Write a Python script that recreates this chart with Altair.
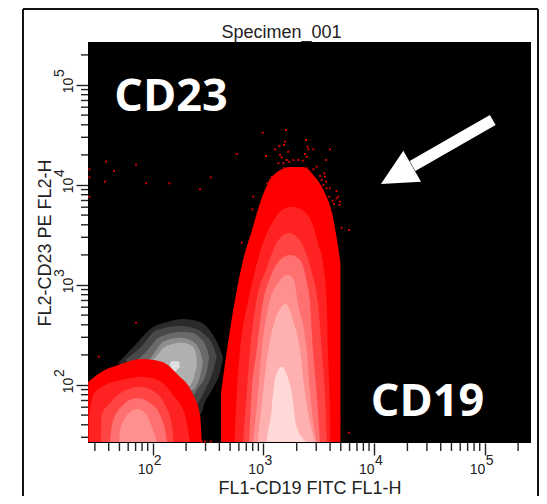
import altair as alt
import pandas as pd

# All contour values are log10 of the fluorescence channel.
X_DOMAIN = [26.0, 261600]
Y_DOMAIN = [26.3, 269150]
FLOOR = 1.43

# Right (CD19+) population: contour x positions and upper edges
R_LEVELS = [
 ("#FF0000", [2.617,2.680,2.743,2.816,2.897,2.969,3.042,3.150,3.240,3.358,3.466,3.556,3.620,3.665,3.696],
             [1.92,2.42,2.85,3.25,3.55,3.82,4.02,4.15,4.18,4.18,4.08,3.92,3.72,3.45,3.22]),
 ("#FF2222", [2.739,2.759,2.789,2.858,2.897,2.942,2.996,3.078,3.168,3.258,3.349,3.439,3.493,3.538,3.572,3.583,3.597,3.606],
             [1.43,1.92,2.35,2.82,3.02,3.22,3.42,3.62,3.75,3.783,3.75,3.62,3.42,3.22,2.82,2.35,1.92,1.43]),
 ("#FF4444", [2.816,2.849,2.879,2.933,2.969,3.014,3.078,3.150,3.231,3.312,3.385,3.439,3.493,3.527,3.556,3.572],
             [1.43,1.92,2.35,2.82,3.00,3.12,3.32,3.47,3.52,3.47,3.32,3.12,2.82,2.35,1.92,1.43]),
 ("#FF7070", [2.870,2.894,2.939,2.994,3.060,3.150,3.240,3.331,3.385,3.421,3.448,3.481,3.511],
             [1.43,1.92,2.35,2.82,3.07,3.25,3.30,3.25,3.07,2.82,2.35,1.92,1.43]),
 ("#FF9090", [2.906,2.951,2.985,3.051,3.132,3.222,3.276,3.312,3.391,3.421,3.481],
             [1.43,1.92,2.35,2.82,3.02,3.10,3.05,2.82,2.35,1.92,1.43]),
 ("#FFB0B0", [2.948,2.996,3.044,3.105,3.201,3.267,3.331,3.376,3.466],
             [1.43,1.92,2.35,2.65,2.81,2.65,2.35,1.92,1.43]),
 ("#FFD8D8", [3.030,3.039,3.069,3.087,3.114,3.165,3.213,3.256,3.301,3.391],
             [1.43,1.52,1.70,1.92,2.10,2.183,2.10,1.92,1.58,1.43]),
]

# Lower-left population
L_LEVELS = [
 ("#FF0000", [1.416,1.539,1.687,1.901,2.081,2.229,2.352,2.427,2.443],
             [2.03,2.133,2.20,2.26,2.233,2.10,1.933,1.70,1.43]),
 ("#FF2222", [1.425,1.461,1.569,1.720,1.901,2.048,2.183,2.292,2.337],
             [1.70,1.90,2.00,2.05,2.083,2.05,1.90,1.70,1.43]),
 ("#FF4444", [1.530,1.539,1.614,1.723,1.885,2.021,2.111,2.174,2.188],
             [1.43,1.70,1.82,1.93,1.983,1.93,1.80,1.60,1.43]),
 ("#FF7070", [1.614,1.632,1.705,1.858,1.976,2.066,2.111,2.129],
             [1.43,1.60,1.77,1.87,1.82,1.70,1.55,1.43]),
 ("#FF9090", [1.698,1.705,1.750,1.795,1.858,1.930,2.003,2.039],
             [1.43,1.55,1.67,1.73,1.76,1.72,1.55,1.43]),
]

# Grey population: x, upper edge, lower edge
G_LEVELS = [
 ("#2A2A2A", [1.687,1.840,1.991,2.129,2.276,2.427,2.472,2.545,2.608,2.635],
             [2.22,2.40,2.57,2.63,2.66,2.63,2.60,2.50,2.36,2.27],
             [2.22,2.10,2.07,2.00,1.90,1.70,1.83,1.97,2.13,2.27]),
 ("#484848", [1.750,1.885,2.036,2.247,2.397,2.472,2.533,2.578],
             [2.25,2.37,2.55,2.59,2.56,2.50,2.42,2.283],
             [2.25,2.15,2.10,2.00,1.82,1.95,2.10,2.283]),
 ("#6A6A6A", [1.840,1.930,2.066,2.262,2.364,2.409,2.488,2.509],
             [2.23,2.32,2.483,2.53,2.52,2.49,2.37,2.27],
             [2.23,2.13,2.07,2.00,1.90,1.97,2.133,2.27]),
 ("#8E8E8E", [1.930,1.991,2.093,2.247,2.355,2.427,2.454],
             [2.20,2.283,2.433,2.473,2.44,2.34,2.233],
             [2.20,2.13,2.07,2.00,1.95,2.083,2.233]),
 ("#B0B0B0", [1.976,2.021,2.111,2.262,2.319,2.364,2.397],
             [2.23,2.27,2.383,2.423,2.41,2.38,2.283],
             [2.23,2.15,2.07,2.00,1.983,2.05,2.183]),
 ("#E0E0E0", [2.156,2.183,2.238,2.242],
             [2.22,2.24,2.233,2.233],
             [2.21,2.11,2.17,2.17]),
]

# Scattered outlier events
DOT_X = [1.428,1.428,1.428,1.578,1.650,1.569,1.849,1.940,2.150,2.524,2.427,2.759,2.993,3.204,2.909,2.900,2.804,1.849,1.512,
         3.195,3.186,3.144,3.105,3.023,3.150,3.165,3.225,3.210,3.135,3.180,3.234,3.270,3.315,3.355,3.186,3.159,3.075,3.060,3.035,
         3.385,3.397,3.406,3.451,3.601,3.376,3.391,3.566,3.481,3.451,3.421,3.391,3.511,3.550,3.556,3.526,3.566,3.541,3.571,3.601,
         3.661,3.676,3.661,3.691,3.625,3.637,3.686,3.595,3.707,3.773,3.691,3.773,2.442,2.472,2.524]
DOT_Y = [4.157,4.077,3.883,4.233,4.140,4.033,4.203,4.017,4.017,4.077,3.957,4.310,4.523,4.550,3.883,3.757,3.423,2.623,2.283,
         4.433,4.400,4.390,4.357,4.290,4.300,4.277,4.333,4.250,4.217,4.217,4.233,4.250,4.250,4.243,4.167,4.143,4.083,4.050,4.017,
         4.450,4.383,4.357,4.357,4.357,4.310,4.283,4.250,4.183,4.157,4.133,4.167,4.090,4.117,4.083,4.050,4.033,4.000,3.967,3.967,
         3.940,3.883,3.867,3.833,3.843,3.810,3.800,3.883,3.573,3.550,1.657,1.523,1.433,1.433,1.433]

# Annotation arrow
ARROW_SHAFT_X = [4.347, 5.072]
ARROW_SHAFT_Y = [4.19, 4.65]
ARROW_HEAD_X = [4.062, 4.264, 4.424]
ARROW_HEAD_TOP = [4.01, 4.343, 4.033]
ARROW_HEAD_BOT = [4.01, 4.023, 4.033]

EXPONENTS = [2, 3, 4, 5]
MAJOR = [10.0 ** e for e in EXPONENTS]
MINOR_X = [30,40,50,60,70,80,90] + [m * 10 ** k for k in (2, 3, 4) for m in range(2, 10)] + [200000]
MINOR_Y = MINOR_X

FONT = "Liberation Sans"
TICK = "#222222"


def ten(v):
    return [10.0 ** a for a in v]


xs = alt.Scale(type="log", domain=X_DOMAIN, nice=False)
ys = alt.Scale(type="log", domain=Y_DOMAIN, nice=False)
x_axis = alt.Axis(
    values=MAJOR, title="FL1-CD19 FITC FL1-H", grid=False, domain=False,
    tickSize=12, tickWidth=1.4, tickColor=TICK, labelExpr="'10'",
    labelAlign="right", labelFont=FONT, labelFontSize=14, labelColor="#222222",
    labelPadding=7, labelOverlap=False, labelFlush=False,
    titleFont=FONT, titleFontSize=18, titleFontWeight="normal", titleColor="#222222",
    titleY=50, titleBaseline="alphabetic")
y_axis = alt.Axis(
    values=MAJOR, title="FL2-CD23 PE FL2-H", grid=False, domain=False,
    tickSize=12, tickWidth=1.4, tickColor=TICK, labelExpr="'10'",
    labelAngle=270, labelAlign="center", labelBaseline="bottom",
    labelFont=FONT, labelFontSize=14, labelColor="#222222",
    labelPadding=1, labelOverlap=False, labelFlush=False,
    titleFont=FONT, titleFontSize=18, titleFontWeight="normal", titleColor="#222222",
    titleX=-38, titleBaseline="alphabetic")
X = alt.X("x:Q", scale=xs, axis=x_axis)
Y = alt.Y("y:Q", scale=ys, axis=y_axis)
Y2 = alt.Y2("y2:Q")

layers = []
for color, xv, top, bot in G_LEVELS:
    df = pd.DataFrame({"x": ten(xv), "y": ten(top), "y2": ten(bot)})
    layers.append(alt.Chart(df).mark_area(color=color, interpolate="monotone").encode(x=X, y=Y, y2=Y2))

for color, xv, top in R_LEVELS + L_LEVELS:
    df = pd.DataFrame({"x": ten(xv), "y": ten(top), "y2": ten([FLOOR] * len(xv))})
    layers.append(alt.Chart(df).mark_area(color=color, interpolate="monotone").encode(x=X, y=Y, y2=Y2))

layers.append(alt.Chart(pd.DataFrame({"x": ten(DOT_X), "y": ten(DOT_Y)}))
              .mark_square(color="#D00000", size=4, opacity=1).encode(x=X, y=Y))

# minor ticks
layers.append(alt.Chart(pd.DataFrame({"x": MINOR_X})).mark_rule(color=TICK, strokeWidth=1.4)
              .encode(x=X, y=alt.value(401), y2=alt.value(409)))
layers.append(alt.Chart(pd.DataFrame({"y": MINOR_Y})).mark_rule(color=TICK, strokeWidth=1.4)
              .encode(y=Y, x=alt.value(-7), x2=alt.value(0)))

# exponents of the tick labels
exp_df = pd.DataFrame({"x": MAJOR, "y": MAJOR, "e": [str(e) for e in EXPONENTS]})
layers.append(alt.Chart(exp_df).mark_text(font=FONT, fontSize=14, color="#222222", align="left", baseline="middle", dx=1)
              .encode(x=X, y=alt.value(419), text="e:N"))
layers.append(alt.Chart(exp_df).mark_text(font=FONT, fontSize=14, color="#222222", align="center", baseline="middle", angle=270, dx=12)
              .encode(y=Y, x=alt.value(-28.5), text="e:N"))

# arrow
layers.append(alt.Chart(pd.DataFrame({"x": ten(ARROW_SHAFT_X), "y": ten(ARROW_SHAFT_Y)}))
              .mark_line(color="white", strokeWidth=11.5, strokeCap="butt").encode(x=X, y=Y))
layers.append(alt.Chart(pd.DataFrame({"x": ten(ARROW_HEAD_X), "y": ten(ARROW_HEAD_TOP), "y2": ten(ARROW_HEAD_BOT)}))
              .mark_area(color="white").encode(x=X, y=Y, y2=Y2))

# big labels
lab_df = pd.DataFrame({"x": ten([2.165, 4.482]), "y": ten([4.88, 1.83]), "t": ["CD23", "CD19"]})
layers.append(alt.Chart(lab_df).mark_text(font="Open Sans", fontWeight="bold", fontSize=45, color="white",
                                          align="center", baseline="middle")
              .encode(x=X, y=Y, text="t:N"))

# outer frame of the picture
one = pd.DataFrame({"a": [0]})
layers.append(alt.Chart(one).mark_rule(color="#111111", strokeWidth=2)
              .encode(x=alt.value(-65), y=alt.value(-33), y2=alt.value(454)))
layers.append(alt.Chart(one).mark_rule(color="#111111", strokeWidth=2)
              .encode(x=alt.value(450), y=alt.value(-33), y2=alt.value(454)))
layers.append(alt.Chart(one).mark_rule(color="#111111", strokeWidth=2)
              .encode(y=alt.value(-33), x=alt.value(-65), x2=alt.value(450)))

chart = alt.layer(*layers).properties(
    width=443, height=401,
    title=alt.TitleParams("Specimen_001", font=FONT, fontSize=18, fontWeight="normal", color="#222222",
                          anchor="middle", dx=-28, dy=48, offset=0, baseline="alphabetic"),
    autosize=alt.AutoSizeParams(type="none"),
    padding={"left": 80, "top": 34, "right": 8, "bottom": 53},
    background="white",
).configure_view(fill="black", stroke=None)

chart.save("out.html", embed_options={"renderer": "svg", "actions": False})
